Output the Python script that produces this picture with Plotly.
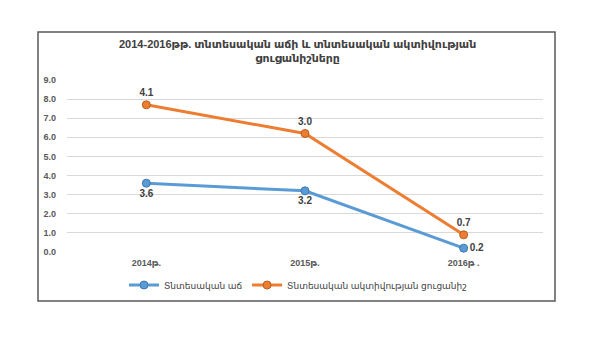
import plotly.graph_objects as go

categories = ["2014թ.", "2015թ.", "2016թ ."]
growth = [3.6, 3.2, 0.2]
activity = [4.1, 3.0, 0.7]
series_names = ["Տնտեսական աճ", "Տնտեսական ակտիվության ցուցանիշ"]
title_text = "2014-2016թթ. տնտեսական աճի և տնտեսական ակտիվության<br>ցուցանիշները"
yticks = [0, 1, 2, 3, 4, 5, 6, 7, 8, 9]

FONT = "Liberation Sans, DejaVu Sans, sans-serif"
BLUE = "#5B9BD5"
ORANGE = "#ED7D31"

fig = go.Figure()
fig.add_trace(go.Scatter(
    x=categories, y=growth, name=series_names[0], stackgroup="s", fill="none",
    mode="lines+markers+text", text=[f"{v:.1f}" for v in growth],
    textposition=["bottom center", "bottom center", "middle right"],
    textfont=dict(family=FONT, size=10, color="#404040", weight="bold"),
    line=dict(color=BLUE, width=3),
    marker=dict(size=8, color=BLUE, line=dict(color="#3C78B0", width=1)),
    cliponaxis=False,
))
fig.add_trace(go.Scatter(
    x=categories, y=activity, name=series_names[1], stackgroup="s", fill="none",
    mode="lines+markers+text", text=[f"{v:.1f}" for v in activity],
    textposition="top center",
    textfont=dict(family=FONT, size=10, color="#404040", weight="bold"),
    line=dict(color=ORANGE, width=3),
    marker=dict(size=8, color=ORANGE, line=dict(color="#B85E1E", width=1)),
    cliponaxis=False,
))

L, R, T, B = 67, 57, 80, 85
W, H = 600, 337
pw = W - L - R
ph = H - T - B

def px_x(x):
    return (x - L) / pw

def px_y(y):
    return (H - B - y) / ph

fig.update_layout(
    width=W, height=H,
    margin=dict(l=L, r=R, t=T, b=B),
    paper_bgcolor="white", plot_bgcolor="white",
    font=dict(family=FONT, color="#595959"),
    showlegend=True,
    legend=dict(orientation="h", x=px_x(298), xanchor="center", y=px_y(285), yanchor="middle",
                font=dict(family=FONT, size=9, color="#404040"), bgcolor="rgba(0,0,0,0)",
                itemwidth=30, traceorder="normal"),
    xaxis=dict(showgrid=False, showline=False, zeroline=False, ticks="", range=[-0.5, 2.5],
               tickfont=dict(family=FONT, size=9, color="#595959", weight="bold"), ticklabelstandoff=4),
    yaxis=dict(range=[0, 9], tickvals=yticks, ticktext=[f"{v:.1f}" for v in yticks],
               showgrid=True, gridcolor="#D9D9D9", gridwidth=1, zeroline=False, showline=False,
               tickfont=dict(family=FONT, size=9, color="#595959", weight="bold"), ticks="", ticklabelstandoff=10),
    annotations=[dict(text="<b>" + title_text + "</b>", xref="paper", yref="paper",
                      x=px_x(297), y=px_y(51), xanchor="center", yanchor="middle",
                      showarrow=False, font=dict(family=FONT, size=11, color="#404040"))],
    shapes=[dict(type="rect", xref="paper", yref="paper",
                 x0=px_x(38), x1=px_x(555), y0=px_y(301), y1=px_y(32),
                 line=dict(color="#595959", width=1.5), layer="below")],
)

fig.write_html("out.html")
